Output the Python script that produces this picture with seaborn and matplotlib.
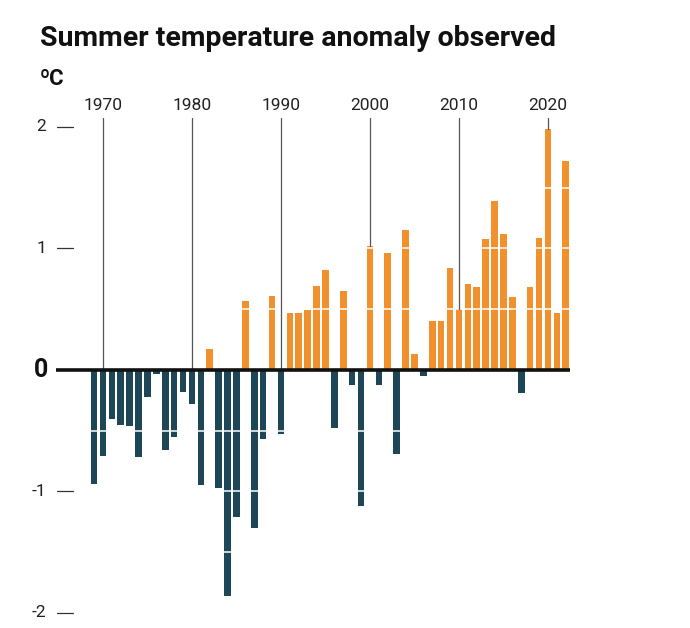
import pandas as pd
import numpy as np
import matplotlib.pyplot as plt
import seaborn as sns

years = list(range(1969, 2023))
anomaly = [
    -0.94, -0.71, -0.40, -0.45, -0.46, -0.72, -0.22, -0.03, -0.66, -0.55,  # 1969-1978
    -0.18, -0.28, -0.95, 0.17, -0.97, -1.86, -1.21, 0.57, -1.30, -0.57,   # 1979-1988
    0.61, -0.53, 0.47, 0.47, 0.49, 0.69, 0.82, -0.48, 0.65, -0.12,        # 1989-1998
    -1.12, 1.02, -0.12, 0.96, -0.69, 1.15, 0.13, -0.05, 0.40, 0.40,       # 1999-2008
    0.84, 0.50, 0.71, 0.68, 1.08, 1.39, 1.12, 0.60, -0.19, 0.68,          # 2009-2018
    1.09, 1.98, 0.47, 1.72,                                               # 2019-2022
]
decades = [1970, 1980, 1990, 2000, 2010, 2020]
ytick_values = [2, 1, 0, -1, -2]

df = pd.DataFrame({'year': years, 'anomaly': anomaly})
df['sign'] = np.where(df['anomaly'] >= 0, 'warm', 'cold')

sns.set_style('white')
plt.rcParams['font.family'] = ['Roboto', 'DejaVu Sans']

fig = plt.figure(figsize=(6.9, 6.28), dpi=100)
ax = fig.add_axes([56 / 690, 3 / 628, 514 / 690, 530 / 628])

sns.barplot(data=df, x='year', y='anomaly', hue='sign',
            palette={'warm': '#f0912d', 'cold': '#1d4757'},
            native_scale=True, dodge=False, width=0.74, saturation=1,
            linewidth=0, legend=False, ax=ax, zorder=2)

ax.set_xlim(1964.73, 2022.48)
ax.set_ylim(-2.099, 2.263)

# white separators across the bars
for g in [1.5, 1.0, 0.5, -0.5, -1.0, -1.5]:
    ax.axhline(g, color='white', lw=1.1, zorder=3)

# decade guide lines and labels
top_line = (370 - 118) / 121.5
for yr in decades:
    val = df.loc[df['year'] == yr, 'anomaly'].iloc[0]
    ax.plot([yr, yr], [max(val, 0), top_line], color='#555555', lw=0.9, zorder=4)
    ax.text(yr, top_line + 0.04, str(yr), ha='center', va='bottom',
            fontsize=12.5, color='#222222')

# zero baseline
ax.axhline(0, color='#111111', lw=2.6, zorder=5)

# y tick labels and short dashes
tr = ax.get_yaxis_transform()
for v in ytick_values:
    if v == 0:
        ax.text(-8 / 514, 0, '0', transform=tr, ha='right', va='center',
                fontsize=18, fontweight='bold', color='#111111', clip_on=False)
    else:
        ax.text(-10 / 514, v, str(v), transform=tr, ha='right', va='center',
                fontsize=12.5, color='#222222', clip_on=False)
        ax.plot([1 / 514, 17 / 514], [v, v], transform=tr, color='#333333',
                lw=0.9, clip_on=False, zorder=6)

ax.set_xlabel('')
ax.set_ylabel('')
ax.set_xticks([])
ax.set_yticks([])
sns.despine(ax=ax, left=True, bottom=True)

fig.text(40 / 690, 1 - 46 / 628, 'Summer temperature anomaly observed',
         fontsize=20.5, fontweight='bold', color='#111111', ha='left', va='baseline')
fig.text(40 / 690, 1 - 85 / 628, 'ºC', fontsize=16, fontweight='bold',
         color='#111111', ha='left', va='baseline')

fig.savefig('out.png', dpi=100)
